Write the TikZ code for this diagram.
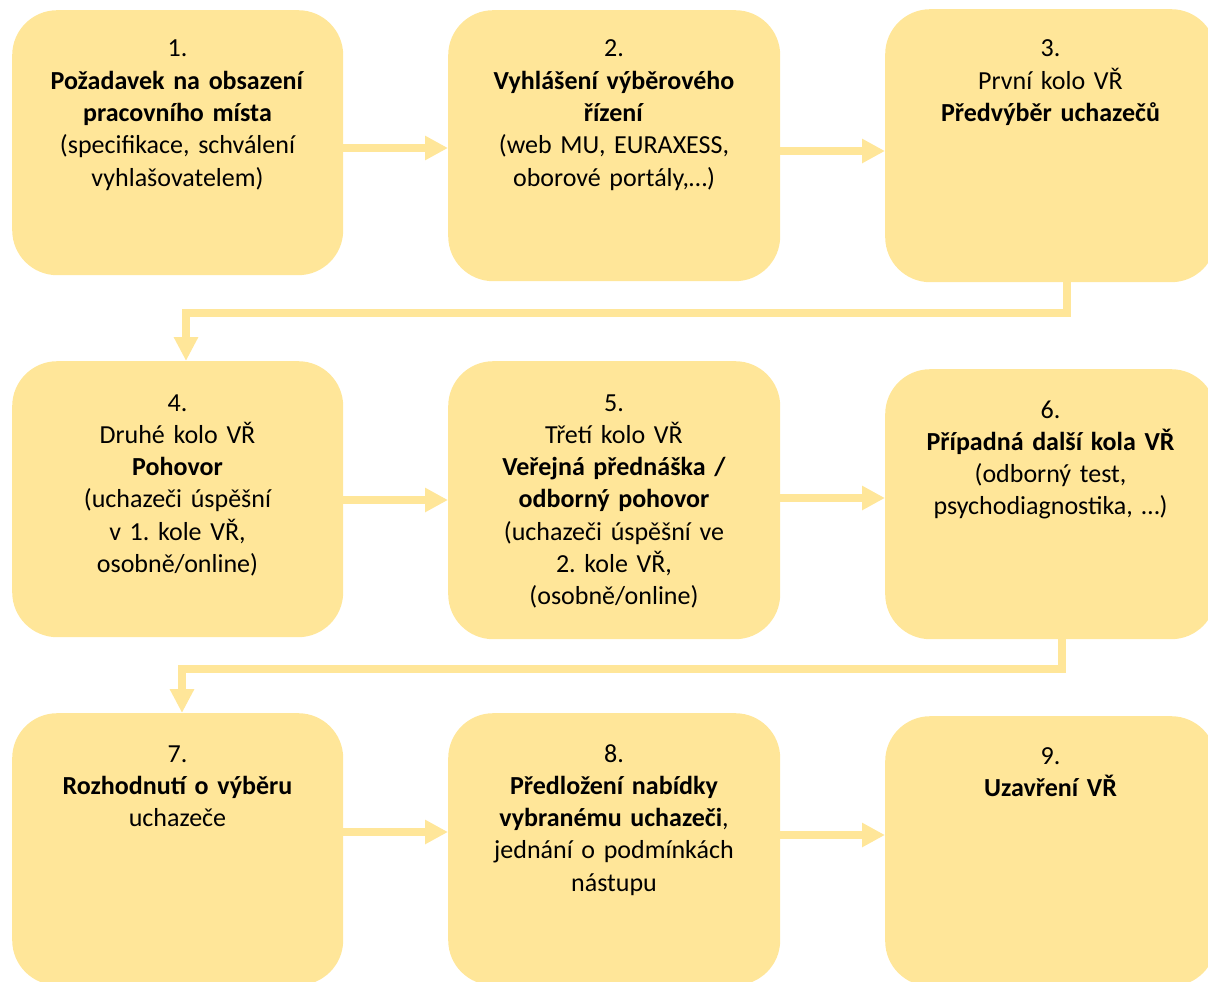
\documentclass[tikz,border=0pt]{standalone}
\usepackage{fontspec}
\setmainfont{Carlito}
\usetikzlibrary{arrows.meta}
\definecolor{gold}{HTML}{FFE699}
\frenchspacing
\tikzset{
  x=1pt, y=-1pt,
  box/.style={rectangle, rounded corners=45pt, fill=gold, draw=none,
    minimum width=331pt, anchor=north west, inner sep=0pt},
  txt/.style={text width=330pt, align=center, anchor=base, inner sep=0pt,
    font=\fontsize{26}{32.3}\selectfont\frenchspacing},
  arr/.style={draw=gold, line width=8.5pt,
    -{Triangle[length=23pt,width=23pt]}},
  elb/.style={draw=gold, line width=8.5pt, line join=miter,
    -{Triangle[length=24pt,width=23pt]}}
}
\begin{document}
\begin{tikzpicture}
\useasboundingbox (0,0) rectangle (1208,982);
\clip (0,0) rectangle (1208,982);
% boxes
\node[box, minimum height=265pt] (b1) at (12,10) {};
\node[box, minimum height=271pt, minimum width=332pt] (b2) at (448,10) {};
\node[box, minimum height=273pt] (b3) at (885,9) {};
\node[box, minimum height=276pt] (b4) at (12,361) {};
\node[box, minimum height=278pt, minimum width=332pt] (b5) at (448,361) {};
\node[box, minimum height=270pt] (b6) at (885,369) {};
\node[box, minimum height=272pt] (b7) at (12,713) {};
\node[box, minimum height=272pt, minimum width=332pt] (b8) at (448,713) {};
\node[box, minimum height=270pt] (b9) at (885,716) {};
% texts
\node[txt] (t1) at (177.5,57) {1.\\\textbf{Požadavek na obsazení}\\\textbf{pracovního místa}\\(specifikace, schválení\\vyhlašovatelem)};
\node[txt] (t2) at (614,57) {2.\\\textbf{Vyhlášení výběrového}\\\textbf{řízení}\\(web MU, EURAXESS,\\oborové portály,…)};
\node[txt] (t3) at (1050.5,57) {3.\\První kolo VŘ\\\textbf{Předvýběr uchazečů}};
\node[txt] (t4) at (177.5,411) {4.\\Druhé kolo VŘ\\\textbf{Pohovor}\\(uchazeči úspěšní\\v 1. kole VŘ,\\osobně/online)};
\node[txt] (t5) at (614,411) {5.\\Třetí kolo VŘ\\\textbf{Veřejná přednáška /}\\\textbf{odborný pohovor}\\(uchazeči úspěšní ve\\2. kole VŘ,\\(osobně/online)};
\node[txt] (t6) at (1050.5,418) {6.\\\textbf{Případná další kola VŘ}\\(odborný test,\\psychodiagnostika, …)};
\node[txt] (t7) at (177.5,762) {7.\\\textbf{Rozhodnutí o výběru}\\uchazeče};
\node[txt] (t8) at (614,762) {8.\\\textbf{Předložení nabídky}\\\textbf{vybranému uchazeči},\\jednání o podmínkách\\nástupu};
\node[txt] (t9) at (1050.5,764) {9.\\\textbf{Uzavření VŘ}};
% horizontal arrows
\draw[arr] (b1.east |- 0,148) -- (b2.west |- 0,148);
\draw[arr] (b2.east |- 0,151) -- (b3.west |- 0,151);
\draw[arr] (b4.east |- 0,500) -- (b5.west |- 0,500);
\draw[arr] (b5.east |- 0,498) -- (b6.west |- 0,498);
\draw[arr] (b7.east |- 0,832) -- (b8.west |- 0,832);
\draw[arr] (b8.east |- 0,835) -- (b9.west |- 0,835);
% elbow arrows
\coordinate (e1) at (1067,313);
\coordinate (e2) at (186,313);
\draw[elb] (b3.south -| e1) -- (e1) -- (e2) -- (b4.north -| e2);
\coordinate (e3) at (1062,669);
\coordinate (e4) at (182,669);
\draw[elb] (b6.south -| e3) -- (e3) -- (e4) -- (b7.north -| e4);
\end{tikzpicture}
\end{document}
